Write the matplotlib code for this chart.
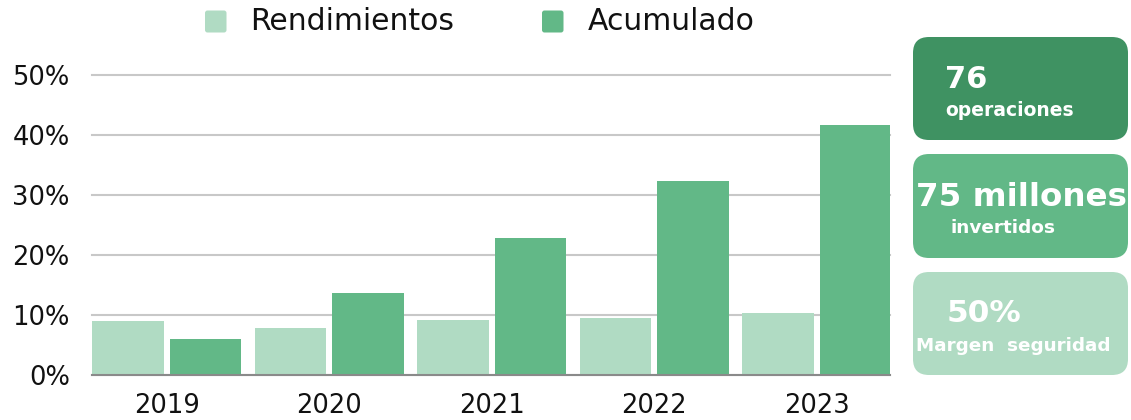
import matplotlib
matplotlib.use("Agg")
import matplotlib.pyplot as plt
import numpy as np
from matplotlib.patches import FancyBboxPatch

years = ["2019", "2020", "2021", "2022", "2023"]
rendimientos = [9.0, 7.8, 9.2, 9.5, 10.3]
acumulado = [6.0, 13.7, 22.8, 32.3, 41.7]
yticks = [0, 10, 20, 30, 40, 50]
series_names = ["Rendimientos", "Acumulado"]

c_light = "#b0dbc3"
c_mid = "#62b887"
c_dark = "#3f9262"

plt.rcParams["font.family"] = ["DejaVu Sans"]

fig = plt.figure(figsize=(11.31, 4.2), dpi=100)
ax = fig.add_axes([92/1131, 1-375/420, (890-92)/1131, 300/420])

x = np.arange(len(years))
w = 0.44
off = 0.47/2 + 0.003
ax.bar(x - off, rendimientos, w, color=c_light, zorder=3)
ax.bar(x + off, acumulado, w, color=c_mid, zorder=3)

ax.set_xlim(-0.46, 4.45)
ax.set_ylim(0, 50)
ax.set_yticks(yticks)
ax.set_yticklabels([f"{v}%" for v in yticks])
ax.set_xticks(x)
ax.set_xticklabels(years)
ax.tick_params(axis="both", length=0, labelsize=18.5, colors="#111111")
ax.tick_params(axis="y", pad=16)
ax.tick_params(axis="x", pad=13)
ax.grid(axis="y", color="#c8c8c8", linewidth=1.5, zorder=0)
for gl in ax.get_ygridlines():
    gl.set_clip_on(False)
for s in ["top", "right", "left"]:
    ax.spines[s].set_visible(False)
ax.spines["bottom"].set_color("#8a8a8a")
ax.spines["bottom"].set_linewidth(1.5)
ax.spines["bottom"].set_zorder(4)

# Overlay in pixel coords for legend and side boxes
ov = fig.add_axes([0, 0, 1, 1])
ov.set_xlim(0, 1131)
ov.set_ylim(420, 0)
ov.axis("off")

legend_pos = [(205, 250), (542, 588)]
for (sx, tx), name, col in zip(legend_pos, series_names, [c_light, c_mid]):
    ov.add_patch(FancyBboxPatch((sx, 10.5), 21.5, 22, boxstyle="round,pad=0,rounding_size=2.5",
                                facecolor=col, edgecolor="none"))
    ov.text(tx, 22, name, fontsize=21.5, color="#111111", va="center", ha="left")

boxes = [(37, 140, c_dark), (154, 258, c_mid), (272, 375, c_light)]
for top, bot, col in boxes:
    ov.add_patch(FancyBboxPatch((913, top), 1128-913, bot-top,
                                boxstyle="round,pad=0,rounding_size=16",
                                facecolor=col, edgecolor="none"))

ov.text(945, 79, "76", color="white", fontsize=22, fontweight="bold", va="center", ha="left")
ov.text(945, 110, "operaciones", color="white", fontsize=13.5, fontweight="bold", va="center", ha="left")
ov.text(1021, 197, "75 millones", color="white", fontsize=23.4, fontweight="bold", va="center", ha="center")
ov.text(950, 228, "invertidos", color="white", fontsize=13.3, fontweight="bold", va="center", ha="left")
ov.text(947, 314, "50%", color="white", fontsize=22.5, fontweight="bold", va="center", ha="left")
ov.text(916, 346, "Margen  seguridad", color="white", fontsize=13.2, fontweight="bold", va="center", ha="left")

fig.savefig("out.png", dpi=100)
